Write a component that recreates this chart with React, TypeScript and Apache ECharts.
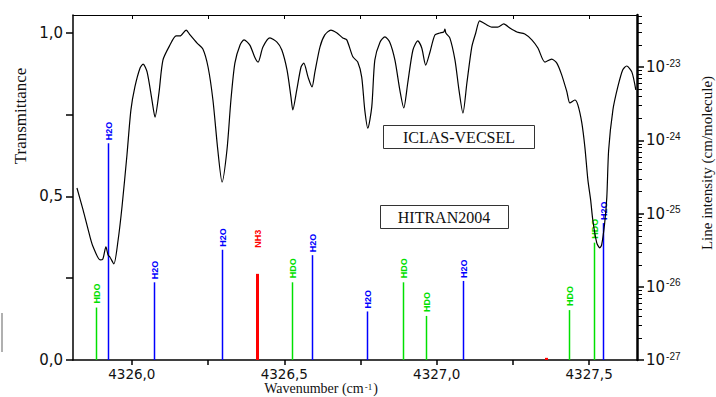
import React, { useEffect, useRef } from "react";
import * as echarts from "echarts";

// ---- Data ----
const wavenumber = [
  4325.820, 4325.840, 4325.863, 4325.873, 4325.896, 4325.905, 4325.915, 4325.922, 4325.928, 4325.941,
  4325.955, 4325.968, 4325.984, 4325.997, 4326.010, 4326.027, 4326.037, 4326.050, 4326.066, 4326.076,
  4326.089, 4326.102, 4326.125, 4326.145, 4326.158, 4326.178, 4326.191, 4326.214, 4326.233, 4326.250,
  4326.266, 4326.282, 4326.296, 4326.312, 4326.325, 4326.338, 4326.355, 4326.368, 4326.387, 4326.404,
  4326.414, 4326.430, 4326.453, 4326.476, 4326.492, 4326.509, 4326.522, 4326.528, 4326.541, 4326.555,
  4326.564, 4326.578, 4326.591, 4326.600, 4326.617, 4326.633, 4326.653, 4326.673, 4326.692, 4326.705,
  4326.725, 4326.741, 4326.754, 4326.764, 4326.774, 4326.787, 4326.797, 4326.814, 4326.830, 4326.846,
  4326.863, 4326.879, 4326.892, 4326.905, 4326.922, 4326.938, 4326.951, 4326.964, 4326.978, 4326.994,
  4327.010, 4327.023, 4327.027, 4327.030, 4327.043, 4327.060, 4327.073, 4327.086, 4327.099, 4327.115,
  4327.128, 4327.141, 4327.158, 4327.181, 4327.200, 4327.220, 4327.240, 4327.263, 4327.289, 4327.312,
  4327.332, 4327.355, 4327.377, 4327.394, 4327.410, 4327.427, 4327.437, 4327.453, 4327.463, 4327.476,
  4327.486, 4327.496, 4327.505, 4327.512, 4327.525, 4327.535, 4327.541, 4327.551, 4327.558, 4327.564,
  4327.578, 4327.594, 4327.610, 4327.623, 4327.640, 4327.653,
];
const transmittance = [
  0.526, 0.459, 0.376, 0.346, 0.306, 0.309, 0.346, 0.321, 0.315, 0.294,
  0.367, 0.471, 0.627, 0.765, 0.835, 0.893, 0.905, 0.881, 0.795, 0.743,
  0.817, 0.917, 0.963, 0.991, 0.991, 1.009, 0.994, 0.969, 0.951, 0.896,
  0.795, 0.642, 0.544, 0.642, 0.795, 0.908, 0.963, 0.979, 0.963, 0.924,
  0.911, 0.957, 0.985, 0.972, 0.948, 0.887, 0.804, 0.765, 0.826, 0.896,
  0.908, 0.865, 0.835, 0.878, 0.957, 0.994, 1.009, 1.000, 0.985, 0.979,
  0.927, 0.911, 0.865, 0.765, 0.709, 0.774, 0.917, 0.972, 0.988, 0.972,
  0.917, 0.826, 0.771, 0.847, 0.948, 0.976, 0.954, 0.902, 0.942, 0.994,
  1.000, 1.003, 1.012, 1.000, 0.985, 0.917, 0.826, 0.755, 0.847, 0.957,
  1.000, 1.037, 1.028, 1.018, 1.018, 1.028, 1.015, 1.003, 0.997, 0.979,
  0.954, 0.911, 0.920, 0.908, 0.872, 0.820, 0.786, 0.795, 0.780, 0.725,
  0.651, 0.550, 0.489, 0.428, 0.358, 0.343, 0.352, 0.419, 0.498, 0.642,
  0.765, 0.835, 0.887, 0.899, 0.881, 0.826,
];

// HITRAN2004 lines
const lineSpecies = ["HDO", "H2O", "H2O", "H2O", "NH3", "HDO", "H2O", "H2O", "HDO", "HDO", "H2O", "NH3", "HDO", "HDO", "H2O"];
const linePositions = [4325.882, 4325.922, 4326.073, 4326.296, 4326.410, 4326.525, 4326.591, 4326.771, 4326.889, 4326.964, 4327.086, 4327.358, 4327.433, 4327.515, 4327.545];
const lineIntensities = [5.2e-27, 9.1e-25, 1.15e-26, 3.2e-26, 1.5e-26, 1.15e-26, 2.7e-26, 4.6e-27, 1.15e-26, 4.0e-27, 1.2e-26, 1.07e-27, 4.8e-27, 4.0e-26, 7.4e-26];
const lineLabelled = [true, true, true, true, true, true, true, true, true, true, true, false, true, true, true];

const xTicks = [4326.0, 4326.25, 4326.5, 4326.75, 4327.0, 4327.25, 4327.5];
const xLabels = [4326.0, 4326.5, 4327.0, 4327.5];
const tTicks = [0, 0.25, 0.5, 0.75, 1.0];
const tLabels = [0, 0.5, 1.0];
const decadeExponents = [-27, -26, -25, -24, -23];

// ---- Axis ranges ----
const X_MIN = 4325.807;
const X_MAX = 4327.657;
const T_MAX = 1.055;
const LOG_MIN = -27;
const LOG_MAX = -22.29;

const speciesStyle: Record<string, { color: string; width: number; gap: number }> = {
  H2O: { color: "#0000ff", width: 1.5, gap: 3 },
  HDO: { color: "#00e000", width: 1.5, gap: 4 },
  NH3: { color: "#ff0000", width: 3, gap: 26 },
};

const SANS = '"Liberation Sans", Arial, sans-serif';
const SANS_W = '"DejaVu Sans", sans-serif';
const SERIF = '"Liberation Serif", "Times New Roman", serif';

export default function App() {
  const ref = useRef<HTMLDivElement>(null);

  useEffect(() => {
    if (!ref.current) return;
    const chart = echarts.init(ref.current, undefined, { renderer: "svg" });

    const minorTickValues: number[] = [];
    decadeExponents.forEach((d) => {
      for (let k = 2; k <= 9; k++) {
        const v = d + Math.log10(k);
        if (v < LOG_MAX) minorTickValues.push(v);
      }
    });

    const commaFmt = (v: number) => v.toFixed(1).replace(".", ",");

    chart.setOption({
      animation: false,
      grid: { left: 73, right: 79, top: 15, bottom: 37 },
      xAxis: [
        {
          type: "value",
          min: X_MIN,
          max: X_MAX,
          position: "bottom",
          axisLine: { show: true, onZero: false, lineStyle: { color: "#000", width: 1.5 } },
          axisTick: { show: true, length: 5, customValues: xTicks, lineStyle: { color: "#000", width: 1.5 } },
          axisLabel: {
            customValues: xLabels,
            formatter: commaFmt,
            fontFamily: SANS_W,
            fontSize: 13.5,
            lineHeight: 13,
            color: "#111",
            margin: 7,
          },
          splitLine: { show: false },
        },
        {
          type: "value",
          min: X_MIN,
          max: X_MAX,
          position: "top",
          axisLine: { show: true, onZero: false, lineStyle: { color: "#000", width: 1 } },
          axisTick: { show: true, inside: true, length: 4, customValues: xTicks, lineStyle: { color: "#000", width: 1 } },
          axisLabel: { show: false },
          splitLine: { show: false },
        },
      ],
      yAxis: [
        {
          type: "value",
          min: 0,
          max: T_MAX,
          position: "left",
          axisLine: { show: true, onZero: false, lineStyle: { color: "#000", width: 1.5 } },
          axisTick: { show: true, length: 7, customValues: tTicks, lineStyle: { color: "#000", width: 1.5 } },
          axisLabel: {
            customValues: tLabels,
            formatter: commaFmt,
            fontFamily: SANS_W,
            fontSize: 15,
            color: "#111",
            margin: 10,
          },
          splitLine: { show: false },
        },
        {
          type: "value",
          min: LOG_MIN,
          max: LOG_MAX,
          position: "right",
          axisLine: { show: true, onZero: false, lineStyle: { color: "#000", width: 2.5 } },
          axisTick: { show: true, length: 7, customValues: decadeExponents, lineStyle: { color: "#000", width: 1.5 } },
          axisLabel: {
            customValues: decadeExponents,
            formatter: (v: number) => `{b|10}{s|${Math.round(v)}}`,
            margin: 9,
            rich: {
              b: { fontFamily: SANS_W, fontSize: 15, color: "#111", lineHeight: 18 },
              s: { fontFamily: SANS, fontSize: 10, color: "#111", lineHeight: 18, verticalAlign: "top", padding: [0, 0, 8, 1] },
            },
          },
          splitLine: { show: false },
        },
      ],
      series: [
        {
          type: "line",
          name: "ICLAS-VECSEL",
          xAxisIndex: 0,
          yAxisIndex: 0,
          data: wavenumber.map((w, i) => [w, transmittance[i]]),
          symbol: "none",
          showSymbol: false,
          smooth: 0.25,
          lineStyle: { color: "#000", width: 1.2 },
          z: 3,
        },
        {
          type: "custom",
          name: "HITRAN2004",
          xAxisIndex: 0,
          yAxisIndex: 1,
          data: linePositions.map((w, i) => [w, Math.log10(lineIntensities[i]), i]),
          renderItem: (_p: any, api: any) => {
            const i = api.value(2) as number;
            const sp = lineSpecies[i];
            const st = speciesStyle[sp];
            const top = api.coord([api.value(0), api.value(1)]);
            const bot = api.coord([api.value(0), LOG_MIN]);
            const x = Math.round(top[0]) + 0.5;
            const children: any[] = [
              {
                type: "line",
                shape: { x1: x, y1: bot[1], x2: x, y2: top[1] },
                style: { stroke: st.color, lineWidth: st.width },
              },
            ];
            if (lineLabelled[i]) {
              children.push({
                type: "text",
                x: x,
                y: top[1] - st.gap,
                rotation: Math.PI / 2,
                style: {
                  text: sp,
                  fill: st.color,
                  font: `bold 9px ${SANS}`,
                  align: "left",
                  verticalAlign: "middle",
                },
              });
            }
            return { type: "group", children };
          },
          z: 2,
        },
        {
          type: "custom",
          name: "minorTicks",
          xAxisIndex: 0,
          yAxisIndex: 1,
          silent: true,
          data: minorTickValues.map((v) => [X_MAX, v]),
          renderItem: (_p: any, api: any) => {
            const p = api.coord([api.value(0), api.value(1)]);
            const y = Math.round(p[1]) + 0.5;
            return {
              type: "line",
              shape: { x1: p[0], y1: y, x2: p[0] + 5, y2: y },
              style: { stroke: "#000", lineWidth: 1 },
            };
          },
          z: 4,
        },
      ],
      graphic: [
        {
          type: "rect",
          shape: { x: 383.5, y: 125.5, width: 151, height: 23 },
          style: { fill: "#fff", stroke: "#333", lineWidth: 1 },
          z: 10,
        },
        {
          type: "text",
          x: 459,
          y: 137,
          style: { text: "ICLAS-VECSEL", font: `16px ${SERIF}`, fill: "#111", align: "center", verticalAlign: "middle" },
          z: 11,
        },
        {
          type: "rect",
          shape: { x: 380.5, y: 205.5, width: 128, height: 23 },
          style: { fill: "#fff", stroke: "#333", lineWidth: 1 },
          z: 10,
        },
        {
          type: "text",
          x: 444,
          y: 217,
          style: { text: "HITRAN2004", font: `16px ${SERIF}`, fill: "#111", align: "center", verticalAlign: "middle" },
          z: 11,
        },
        {
          type: "text",
          x: 20,
          y: 116,
          rotation: Math.PI / 2,
          style: { text: "Transmittance", font: `17px ${SERIF}`, fill: "#111", align: "center", verticalAlign: "middle" },
        },
        {
          type: "text",
          x: 707,
          y: 163,
          rotation: Math.PI / 2,
          style: { text: "Line intensity (cm/molecule)", font: `15px ${SERIF}`, fill: "#111", align: "center", verticalAlign: "middle" },
        },
        {
          type: "text",
          x: 321,
          y: 388.5,
          style: {
            text: "{a|Wavenumber (cm}{s|-1}{a|)}",
            align: "center",
            verticalAlign: "middle",
            rich: {
              a: { font: `14px ${SERIF}`, fill: "#111", lineHeight: 13 },
              s: { font: `9px ${SERIF}`, fill: "#111", lineHeight: 13, verticalAlign: "top", padding: [0, 1, 6, 1] },
            },
          },
        },
        {
          type: "line",
          shape: { x1: 2, y1: 313, x2: 2, y2: 352 },
          style: { stroke: "#b0b0b0", lineWidth: 2 },
        },
      ],
    });

    return () => chart.dispose();
  }, []);

  return (
    <div
      ref={ref}
      style={{ width: 716, height: 397, position: "absolute", left: 0, top: 0, background: "#fff" }}
    />
  );
}
